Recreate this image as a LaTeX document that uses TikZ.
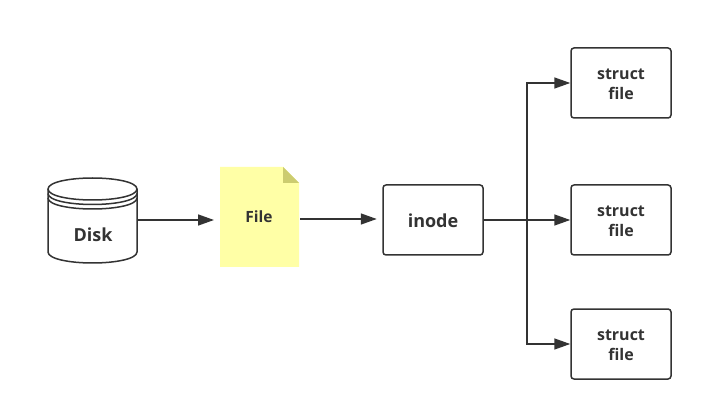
\documentclass[tikz,border=0pt]{standalone}
\usepackage{fontspec}
\setmainfont{Open Sans}
\usetikzlibrary{arrows.meta}
\definecolor{ink}{HTML}{333333}
\definecolor{notey}{HTML}{FFFFA6}
\definecolor{foldy}{HTML}{CCCC70}
\newcommand{\lowerline}{\rule{0pt}{12.8pt}}
\tikzset{
  x=1pt,y=-1pt,
  conn/.style={draw=ink,line width=1.5pt,-{Triangle[length=16pt,width=11pt,fill=ink]}},
  boxn/.style={draw=ink,line width=1.5pt,rounded corners=3pt,minimum width=100pt,minimum height=70pt,inner sep=0pt,text=ink,font=\bfseries\fontsize{16pt}{20pt}\selectfont,align=center},
  lab/.style={text=ink,font=\bfseries\fontsize{18pt}{20pt}\selectfont,inner sep=0pt},
}
\begin{document}
\begin{tikzpicture}
\useasboundingbox (0,0) rectangle (703,411);
\fill[white] (0,0) rectangle (703,411);
% disk
\draw[ink,line width=1.5pt,fill=white] (48,189) .. controls (48,182) and (70,178) .. (92.5,178) .. controls (115,178) and (137,182) .. (137,189) -- (137,252) .. controls (137,259) and (115,263) .. (92.5,263) .. controls (70,263) and (48,259) .. (48,252) -- cycle;
\draw[ink,line width=1.5pt] (48,189) .. controls (48,196) and (70,200) .. (92.5,200) .. controls (115,200) and (137,196) .. (137,189);
\draw[ink,line width=1.5pt] (48,193.5) .. controls (48,200.5) and (70,204.5) .. (92.5,204.5) .. controls (115,204.5) and (137,200.5) .. (137,193.5);
\draw[ink,line width=1.5pt] (48,198) .. controls (48,205) and (70,209) .. (92.5,209) .. controls (115,209) and (137,205) .. (137,198);
\node[lab] (disk) at (93,235) {Disk};
\coordinate (diskE) at (137,220);
% file
\fill[notey] (220,167) -- (283,167) -- (299,183) -- (299,267) -- (220,267) -- cycle;
\fill[foldy] (283,167) -- (299,183) -- (283,183) -- cycle;
\node[text=ink,font=\bfseries\fontsize{15.5pt}{14pt}\selectfont,inner sep=0pt] (filelab) at (259,217) {File};
\coordinate (fileW) at (214,220);
\coordinate (fileE) at (300,219);
% boxes
\node[boxn,font=\bfseries\fontsize{18pt}{20pt}\selectfont] (inode) at (433,220) {\rule{0pt}{16pt}inode};
\node[boxn] (s1) at (621,83) {\lowerline struct\\file};
\node[boxn] (s2) at (621,220) {\lowerline struct\\file};
\node[boxn] (s3) at (621,344) {\lowerline struct\\file};
\coordinate (j) at (527,220);
% connectors
\draw[conn] (diskE) -- (fileW);
\draw[conn,shorten >=5.5pt] (fileE) -- (fileE -| inode.west);
\draw[conn] (inode.east) -- (s2.west);
\draw[conn] (inode.east) -- (j) |- (s1.west);
\draw[conn] (inode.east) -- (j) |- (s3.west);
\end{tikzpicture}
\end{document}
